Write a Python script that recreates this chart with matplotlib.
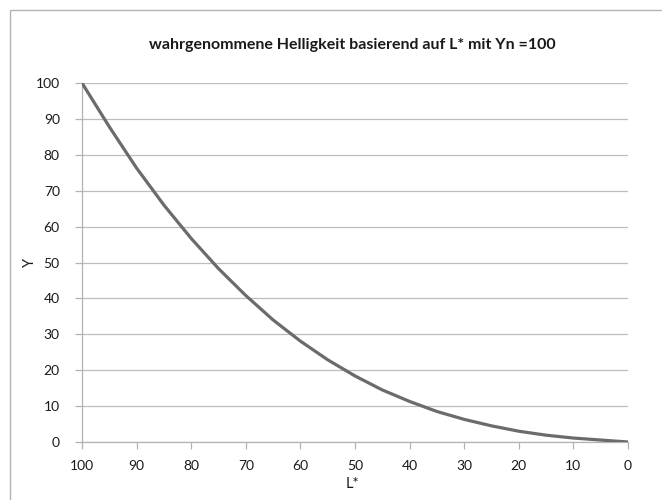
import matplotlib

matplotlib.use("Agg")
import matplotlib.pyplot as plt
from matplotlib.patches import Rectangle

plt.rcParams["font.family"] = ["Lato", "DejaVu Sans"]

# perceived lightness L* and relative luminance Y (Yn = 100)
l_star = [100, 95, 90, 85, 80, 75, 70, 65, 60, 55, 50, 45, 40, 35, 30, 25, 20, 15, 10, 5, 0]
y_values = [100.0, 87.8, 76.3, 66.0, 56.7, 48.3, 40.8, 34.0, 28.1, 22.9, 18.4, 14.5, 11.3, 8.5, 6.3, 4.5,
            3.0, 1.9, 1.1, 0.55, 0.0]
x_ticks = [100, 90, 80, 70, 60, 50, 40, 30, 20, 10, 0]
y_ticks = [0, 10, 20, 30, 40, 50, 60, 70, 80, 90, 100]

AXIS_GRAY = "#b3b3b3"
GRID_GRAY = "#bdbdbd"
LINE_GRAY = "#6b6b6b"
TEXT = "#1a1a1a"

fig = plt.figure(figsize=(6.62, 5.0), dpi=100)
ax = fig.add_axes([82 / 662, 1 - 442 / 500, (628 - 82) / 662, (442 - 83) / 500])

# chart frame
fig.patches.append(Rectangle((9.5 / 662, -0.1), 1.2, 1 - 9.5 / 500 + 0.1, transform=fig.transFigure,
                             fill=False, edgecolor=AXIS_GRAY, linewidth=1.0))

ax.plot(l_star, y_values, color=LINE_GRAY, linewidth=2.3, solid_capstyle="round",
        solid_joinstyle="round", zorder=3)

ax.set_xlim(100, 0)
ax.set_ylim(0, 100)
ax.set_xticks(x_ticks)
ax.set_yticks(y_ticks)
ax.yaxis.grid(True, color=GRID_GRAY, linewidth=0.9)
ax.set_axisbelow(True)

for side in ("top", "right"):
    ax.spines[side].set_visible(False)
for side in ("left", "bottom"):
    ax.spines[side].set_color(AXIS_GRAY)
    ax.spines[side].set_linewidth(0.9)
ax.tick_params(axis="both", direction="out", length=5, width=0.9, color=AXIS_GRAY,
               labelsize=10, labelcolor=TEXT)
ax.tick_params(axis="y", pad=11)
ax.tick_params(axis="x", pad=8)

fig.text(30 / 662, 1 - 262 / 500, "Y", rotation=90, ha="center", va="center", fontsize=10.5, color=TEXT)
fig.text(352 / 662, 1 - 484 / 500, "L*", ha="center", va="center", fontsize=10.5, color=TEXT)
fig.text(352 / 662, 1 - 45 / 500, "wahrgenommene Helligkeit basierend auf L* mit Yn =100",
         ha="center", va="center", fontsize=11.5, fontweight="bold", color=TEXT)

fig.savefig("out.png", dpi=100)
